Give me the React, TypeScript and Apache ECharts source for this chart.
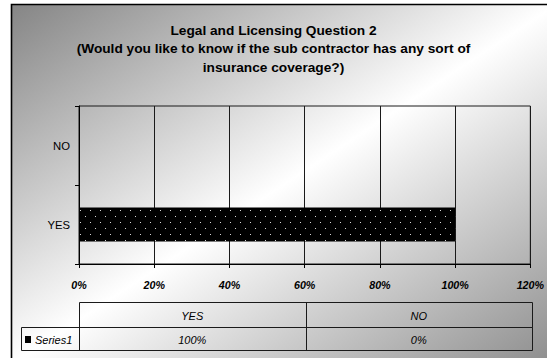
import React, { useEffect, useRef } from 'react';
import * as echarts from 'echarts';

const categories = ['YES', 'NO'];
const seriesName = 'Series1';
const values = [1, 0];
const xMin = 0;
const xMax = 1.2;
const xStep = 0.2;
const titleText =
  'Legal and Licensing Question 2\n(Would you like to know if the sub contractor has any sort of\ninsurance coverage?)';

const pct = (v: number) => Math.round(v * 100) + '%';

export default function App() {
  const ref = useRef<HTMLDivElement>(null);

  useEffect(() => {
    if (!ref.current) return;
    const chart = echarts.init(ref.current, null, { renderer: 'svg' });
    const FONT = '"Liberation Sans", Arial, sans-serif';
    const W = 547;
    const H = 358;
    const gridL = 79;
    const gridR = 532;
    const gridT = 106;
    const gridB = 264;
    const tTop = 302;
    const tMid = 327;
    const tBot = 350;
    const keyL = 21;
    const colW = (gridR - gridL) / categories.length;
    const lineCol = '#1a1a1a';

    const graphics: any[] = [];
    // chart area background with diagonal gradient
    graphics.push({
      type: 'rect',
      z: -100,
      silent: true,
      shape: { x: 11.5, y: 4.5, width: 545, height: 360 },
      style: {
        fill: {
          type: 'linear',
          x: 0,
          y: 0,
          x2: 1,
          y2: 1,
          colorStops: [
            { offset: 0, color: '#858585' },
            { offset: 0.5, color: '#ffffff' },
            { offset: 1, color: '#8c8c8c' },
          ],
        },
        stroke: '#000',
        lineWidth: 1.6,
      },
    });
    // data table: header row
    graphics.push({
      type: 'rect',
      silent: true,
      shape: { x: gridL + 0.5, y: tTop + 0.5, width: gridR - gridL, height: tMid - tTop },
      style: { fill: 'transparent', stroke: lineCol, lineWidth: 1 },
    });
    // data table: series row
    graphics.push({
      type: 'rect',
      silent: true,
      shape: { x: keyL + 0.5, y: tMid + 0.5, width: gridR - keyL, height: tBot - tMid },
      style: { fill: 'transparent', stroke: lineCol, lineWidth: 1 },
    });
    graphics.push({
      type: 'line',
      silent: true,
      shape: { x1: gridL + 0.5, y1: tMid, x2: gridL + 0.5, y2: tBot },
      style: { stroke: lineCol, lineWidth: 1 },
    });
    for (let i = 1; i < categories.length; i++) {
      const x = Math.round(gridL + colW * i) + 0.5;
      graphics.push({
        type: 'line',
        silent: true,
        shape: { x1: x, y1: tTop, x2: x, y2: tBot },
        style: { stroke: lineCol, lineWidth: 1 },
      });
    }
    categories.forEach((c, i) => {
      const cx = gridL + colW * (i + 0.5);
      graphics.push({
        type: 'text',
        silent: true,
        x: cx,
        y: (tTop + tMid) / 2 + 1,
        style: {
          text: c,
          align: 'center',
          verticalAlign: 'middle',
          font: 'italic 11px ' + FONT,
          fill: '#000',
        },
      });
      graphics.push({
        type: 'text',
        silent: true,
        x: cx,
        y: (tMid + tBot) / 2 + 1,
        style: {
          text: pct(values[i]),
          align: 'center',
          verticalAlign: 'middle',
          font: 'italic 11px ' + FONT,
          fill: '#000',
        },
      });
    });
    // legend key + series name
    graphics.push({
      type: 'rect',
      silent: true,
      shape: { x: 25, y: 336, width: 6, height: 7 },
      style: { fill: '#000' },
    });
    graphics.push({
      type: 'text',
      silent: true,
      x: 35,
      y: (tMid + tBot) / 2 + 1,
      style: {
        text: seriesName,
        align: 'left',
        verticalAlign: 'middle',
        font: 'italic 11px ' + FONT,
        fill: '#000',
      },
    });

    chart.setOption({
      animation: false,
      title: {
        text: titleText,
        left: 'center',
        top: 16,
        padding: [5, 0, 5, 21],
        textStyle: {
          fontFamily: FONT,
          fontSize: 13.7,
          fontWeight: 'bold',
          color: '#000',
          lineHeight: 18.5,
        },
      },
      graphic: { elements: graphics },
      grid: {
        left: gridL,
        right: W - gridR,
        top: gridT,
        bottom: H - gridB,
        show: true,
        borderColor: lineCol,
        borderWidth: 1,
        backgroundColor: 'transparent',
      },
      xAxis: {
        type: 'value',
        min: xMin,
        max: xMax,
        interval: xStep,
        axisLine: { show: true, lineStyle: { color: '#000', width: 1 } },
        axisTick: { show: true, length: 4, lineStyle: { color: '#000' } },
        axisLabel: {
          formatter: (v: number) => pct(v),
          fontFamily: FONT,
          fontSize: 10.7,
          fontWeight: 'bold',
          fontStyle: 'italic',
          color: '#000',
          margin: 15,
        },
        splitLine: { show: true, lineStyle: { color: lineCol, width: 1 } },
      },
      yAxis: {
        type: 'category',
        data: categories,
        axisLine: { show: true, lineStyle: { color: '#000', width: 1 } },
        axisTick: { show: true, length: 4, lineStyle: { color: '#000' } },
        axisLabel: {
          fontFamily: FONT,
          fontSize: 11.3,
          color: '#000',
          margin: 9,
        },
        splitLine: { show: false },
      },
      series: [
        {
          type: 'bar',
          name: seriesName,
          data: values,
          barWidth: '43%',
          itemStyle: {
            color: '#000',
            decal: {
              symbol: 'rect',
              symbolSize: 1,
              color: '#d8d8d8',
              dashArrayX: [
                [1, 9],
                [0, 5, 1, 4],
              ],
              dashArrayY: [1, 5],
            },
          },
        },
      ],
    });

    return () => {
      chart.dispose();
    };
  }, []);

  return (
    <div
      ref={ref}
      style={{ position: 'fixed', left: 0, top: 0, width: 547, height: 358, background: '#fff' }}
    />
  );
}
